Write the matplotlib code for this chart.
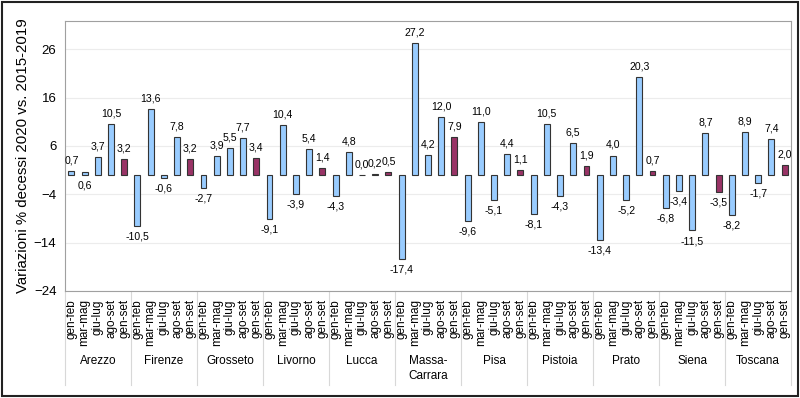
import numpy as np
import matplotlib.pyplot as plt
from matplotlib.patches import Rectangle
from matplotlib.transforms import blended_transform_factory

plt.rcParams['font.family'] = ['Liberation Sans', 'DejaVu Sans']

# province e periodi
province = ["Arezzo", "Firenze", "Grosseto", "Livorno", "Lucca", "Massa-\nCarrara",
            "Pisa", "Pistoia", "Prato", "Siena", "Toscana"]
periodi = ["gen-feb", "mar-mag", "giu-lug", "ago-set", "gen-set"]

# variazioni % decessi 2020 vs 2015-2019 (gen-feb, mar-mag, giu-lug, ago-set, gen-set)
arezzo = [0.7, 0.6, 3.7, 10.5, 3.2]
firenze = [-10.5, 13.6, -0.6, 7.8, 3.2]
grosseto = [-2.7, 3.9, 5.5, 7.7, 3.4]
livorno = [-9.1, 10.4, -3.9, 5.4, 1.4]
lucca = [-4.3, 4.8, 0.0, 0.2, 0.5]
massa = [-17.4, 27.2, 4.2, 12.0, 7.9]
pisa = [-9.6, 11.0, -5.1, 4.4, 1.1]
pistoia = [-8.1, 10.5, -4.3, 6.5, 1.9]
prato = [-13.4, 4.0, -5.2, 20.3, 0.7]
siena = [-6.8, -3.4, -11.5, 8.7, -3.5]
toscana = [-8.2, 8.9, -1.7, 7.4, 2.0]

valori = np.array([arezzo, firenze, grosseto, livorno, lucca, massa,
                   pisa, pistoia, prato, siena, toscana]).ravel()

n = len(periodi)
x = np.arange(len(valori))
colori = ["#993366" if i % n == n - 1 else "#99ccff" for i in x]

fig = plt.figure(figsize=(8, 3.98), dpi=100)
ax = fig.add_axes([0.081, 0.269, 0.908, 0.678])

ax.bar(x, valori, width=0.45, color=colori, edgecolor="#333333", linewidth=0.8, zorder=3)

ax.set_xlim(-0.5, len(valori) - 0.5)
ax.set_ylim(-24, 31.8)
ax.set_yticks([-24, -14, -4, 6, 16, 26])
ax.tick_params(axis="y", labelsize=9.5, length=0, pad=6)
ax.yaxis.grid(True, color="#ececec", linewidth=0.8, zorder=0)

ax.set_xticks(x)
ax.set_xticklabels(periodi * len(province), rotation=90, fontsize=8.5)
ax.tick_params(axis="x", length=0, pad=6)

for s in ax.spines.values():
    s.set_color("#a0a0a0")
    s.set_linewidth(0.8)

ax.set_ylabel("Variazioni % decessi 2020 vs. 2015-2019", fontsize=10.8, labelpad=3)

# etichette valori
sotto = {1}  # etichetta sotto l'asse come nell'originale
for i, v in zip(x, valori):
    testo = ("%.1f" % v).replace(".", ",")
    if v < 0 or i in sotto:
        ax.annotate(testo, (i, min(v, 0)), xytext=(0, -4), textcoords="offset points",
                    ha="center", va="top", fontsize=7.6)
    else:
        ax.annotate(testo, (i, v), xytext=(0, 4), textcoords="offset points",
                    ha="center", va="bottom", fontsize=7.6)

# separatori e nomi delle province
tr = blended_transform_factory(ax.transData, ax.transAxes)
for g in range(len(province) + 1):
    xs = g * n - 0.5
    ax.plot([xs, xs], [0, -0.348], transform=tr, color="#d8d8d8", linewidth=0.8, clip_on=False)
for g, nome in enumerate(province):
    ax.text(g * n + (n - 1) / 2, -0.238, nome, transform=tr, ha="center", va="top",
            fontsize=8.5, linespacing=1.3)

# cornice esterna
fig.patches.append(Rectangle((0.003, 0.004), 0.994, 0.99, transform=fig.transFigure,
                             fill=False, edgecolor="#222222", linewidth=1.5))

fig.savefig("out.png", dpi=100)
